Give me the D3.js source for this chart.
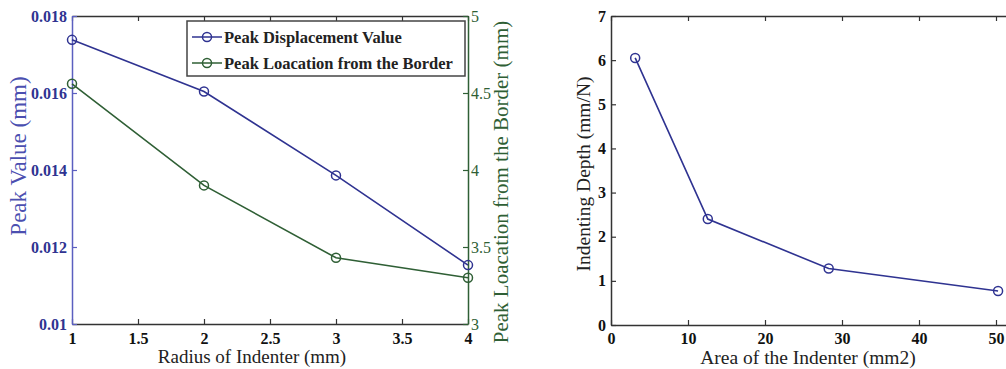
<!DOCTYPE html>
<html>
<head>
<meta charset="utf-8">
<script src="https://cdn.jsdelivr.net/npm/d3@7/dist/d3.min.js"></script>
<style>
  body { margin: 0; background: #fff; }
  svg { display: block; font-family: "Liberation Serif", "Times New Roman", serif; }
</style>
</head>
<body>
<svg id="chart" width="1006" height="369"></svg>
<script>
// left panel data
let radius = [1, 2, 3, 4];
let peakDisp = [0.01738, 0.01604, 0.01386, 0.01153];
let peakLoc = [4.56, 3.9, 3.43, 3.3];
let radiusTicks = [1, 1.5, 2, 2.5, 3, 3.5, 4];
let dispTicks = [0.01, 0.012, 0.014, 0.016, 0.018];
let locTicks = [3, 3.5, 4, 4.5, 5];

// right panel data
let area = [3.14, 12.57, 28.27, 50.27];
let depth = [6.05, 2.4, 1.28, 0.77];
let areaTicks = [0, 10, 20, 30, 40, 50];
let depthTicks = [0, 1, 2, 3, 4, 5, 6, 7];

let blue = "#2f3391";
let green = "#2f5f35";
let axisGray = "#333";
let serif = "'Liberation Serif', 'Times New Roman', serif";

let svg = d3.select("#chart");

//? LEFT PANEL
let L = { left: 72, right: 468, top: 16, bottom: 324 };
let x1 = d3.scaleLinear().domain([1, 4]).range([L.left, L.right]);
let yDisp = d3.scaleLinear().domain([0.01, 0.018]).range([L.bottom, L.top]);
let yLoc = d3.scaleLinear().domain([3, 5]).range([L.bottom, L.top]);

let gL = svg.append("g");

gL.append("g")
    .attr("transform", "translate(0," + L.bottom + ")")
    .call(d3.axisBottom(x1).tickValues(radiusTicks).tickSize(-5).tickSizeOuter(0).tickPadding(9)
        .tickFormat(d3.format("")))
    .call(styleAxis, axisGray, "#111", "bold", 16);

gL.append("g")
    .attr("transform", "translate(0," + L.top + ")")
    .call(d3.axisTop(x1).tickValues(radiusTicks).tickSize(-5).tickSizeOuter(0).tickFormat(""))
    .call(styleAxis, axisGray, "#111", "bold", 16);

gL.append("g")
    .attr("transform", "translate(" + L.left + ",0)")
    .call(d3.axisLeft(yDisp).tickValues(dispTicks).tickSize(-5).tickSizeOuter(0).tickPadding(5)
        .tickFormat(function (d) { return +d.toFixed(3) + ""; }))
    .call(styleAxis, "#5b5fc0", blue, "bold", 16);

gL.append("g")
    .attr("transform", "translate(" + L.right + ",0)")
    .call(d3.axisRight(yLoc).tickValues(locTicks).tickSize(-5).tickSizeOuter(0).tickPadding(3)
        .tickFormat(d3.format("")))
    .call(styleAxis, green, green, "normal", 16);

drawSeries(gL, radius, peakDisp, x1, yDisp, blue);
drawSeries(gL, radius, peakLoc, x1, yLoc, green);

// legend
let leg = gL.append("g").attr("transform", "translate(187,21)");
leg.append("rect").attr("width", 278).attr("height", 55)
    .attr("fill", "#fff").attr("stroke", "#444").attr("stroke-width", 1.5);
let legItems = [
    { name: "Peak Displacement Value", color: blue },
    { name: "Peak Loacation from the Border", color: green }
];
legItems.forEach(function (d, i) {
    let cy = 16 + i * 26;
    leg.append("line").attr("x1", 5).attr("x2", 35).attr("y1", cy).attr("y2", cy)
        .attr("stroke", d.color).attr("stroke-width", 1.5);
    leg.append("circle").attr("cx", 20).attr("cy", cy).attr("r", 4.5)
        .attr("fill", "none").attr("stroke", d.color).attr("stroke-width", 1.5);
    leg.append("text").attr("x", 37).attr("y", cy + 6)
        .style("font-family", serif)
        .attr("font-size", 16.5).attr("font-weight", "bold").attr("fill", "#222")
        .text(d.name);
});

gL.append("text")
    .attr("transform", "translate(26,156) rotate(-90)")
    .style("font-family", serif)
    .attr("text-anchor", "middle").attr("font-size", 23).attr("fill", "#4b4fb0")
    .text("Peak Value (mm)");

gL.append("text")
    .attr("transform", "translate(508,182) rotate(-90)")
    .style("font-family", serif)
    .attr("text-anchor", "middle").attr("font-size", 21).attr("fill", green)
    .text("Peak Loacation from the Border (mm)");

gL.append("text")
    .attr("x", 252).attr("y", 363)
    .style("font-family", serif)
    .attr("text-anchor", "middle").attr("font-size", 19).attr("fill", "#222")
    .text("Radius of Indenter (mm)");

//? RIGHT PANEL
let R = { left: 611, right: 1073, top: 16, bottom: 325 };
let x2 = d3.scaleLinear().domain([0, 60]).range([R.left, R.right]);
let y2 = d3.scaleLinear().domain([0, 7]).range([R.bottom, R.top]);

let gR = svg.append("g");

gR.append("g")
    .attr("transform", "translate(0," + R.bottom + ")")
    .call(d3.axisBottom(x2).tickValues(areaTicks).tickSize(-5).tickSizeOuter(0).tickPadding(8)
        .tickFormat(d3.format("d")))
    .call(styleAxis, axisGray, "#111", "bold", 16);

gR.append("g")
    .attr("transform", "translate(0," + R.top + ")")
    .call(d3.axisTop(x2).tickValues(areaTicks).tickSize(-5).tickSizeOuter(0).tickFormat(""))
    .call(styleAxis, axisGray, "#111", "bold", 16);

gR.append("g")
    .attr("transform", "translate(" + R.left + ",0)")
    .call(d3.axisLeft(y2).tickValues(depthTicks).tickSize(-5).tickSizeOuter(0).tickPadding(5)
        .tickFormat(d3.format("d")))
    .call(styleAxis, axisGray, "#111", "bold", 16);

gR.append("g")
    .attr("transform", "translate(" + R.right + ",0)")
    .call(d3.axisRight(y2).tickValues(depthTicks).tickSize(-5).tickSizeOuter(0).tickFormat(""))
    .call(styleAxis, axisGray, "#111", "bold", 16);

drawSeries(gR, area, depth, x2, y2, blue);

gR.append("text")
    .attr("transform", "translate(590,174) rotate(-90)")
    .style("font-family", serif)
    .attr("text-anchor", "middle").attr("font-size", 19.5).attr("fill", "#222")
    .text("Indenting Depth (mm/N)");

gR.append("text")
    .attr("x", 808).attr("y", 364)
    .style("font-family", serif)
    .attr("text-anchor", "middle").attr("font-size", 19.5).attr("fill", "#222")
    .text("Area of the Indenter (mm2)");

function styleAxis(g, lineColor, textColor, weight, size) {
    g.attr("font-family", null);
    g.select(".domain").attr("stroke", lineColor).attr("stroke-width", 1.5);
    g.selectAll(".tick line").attr("stroke", lineColor).attr("stroke-width", 1.2);
    g.selectAll(".tick text")
        .attr("fill", textColor)
        .style("font-family", serif)
        .attr("font-weight", weight)
        .attr("font-size", size);
}

function drawSeries(g, xs, ys, xScale, yScale, color) {
    let pts = xs.map(function (d, i) { return [d, ys[i]]; });
    let line = d3.line()
        .x(function (d) { return xScale(d[0]); })
        .y(function (d) { return yScale(d[1]); });
    g.append("path").datum(pts)
        .attr("d", line).attr("fill", "none")
        .attr("stroke", color).attr("stroke-width", 1.6);
    g.selectAll(null).data(pts).enter().append("circle")
        .attr("cx", function (d) { return xScale(d[0]); })
        .attr("cy", function (d) { return yScale(d[1]); })
        .attr("r", 4.5).attr("fill", "none")
        .attr("stroke", color).attr("stroke-width", 1.5);
}
</script>
</body>
</html>
